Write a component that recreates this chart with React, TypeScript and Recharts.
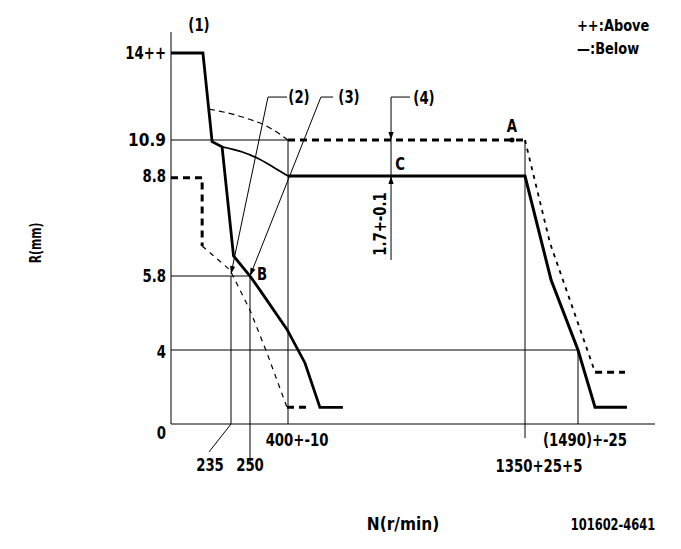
import React from 'react';
import { ComposedChart, Line, XAxis, YAxis, ReferenceLine, ReferenceDot } from 'recharts';

// ---- schematic (non-uniform) axis anchors: value -> offset from origin ----
const N_ANCHORS = [0, 235, 250, 400, 1350, 1490, 1693];
const X_POS = [0, 60, 79, 117, 354, 407, 484];
const R_ANCHORS = [0, 4, 5.8, 8.8, 10.9, 14, 14.75];
const Y_POS = [0, 74, 148, 248, 284, 371, 392];

// ---- tick values / labels ----
const X_TICKS = [235, 250, 400, 1350, 1490];
const X_TICK_LABELS = ['235', '250', '400+-10', '1350+25+5', '(1490)+-25'];
const Y_TICKS = [0, 4, 5.8, 8.8, 10.9, 14];
const Y_TICK_LABELS = ['0', '4', '5.8', '8.8', '10.9', '14++'];

// ---- series (N in r/min, R in mm) ----
const mainN = [0, 125, 161, 200, 237, 250, 290, 396, 468, 528, 620];
const mainR = [14, 14, 10.8, 10.5, 6.4, 5.8, 5.45, 4.5, 3.3, 0.9, 0.9];

const branchN = [200, 244, 278, 341, 400];
const branchR = [10.5, 10.2, 9.85, 9.33, 8.8];

const plateauN = [400, 1350, 1419, 1490, 1535, 1619];
const plateauR = [8.8, 8.8, 5.7, 4.0, 0.9, 0.9];

const aboveCurveN = [149, 244, 329, 400];
const aboveCurveR = [12.0, 11.72, 11.33, 10.9];
const aboveFlatN = [400, 1350];
const aboveFlatR = [10.9, 10.9];
const aboveDropN = [1350, 1416, 1535];
const aboveDropR = [10.9, 6.79, 2.8];
const aboveEndN = [1535, 1614];
const aboveEndR = [2.8, 2.8];

const belowStepN = [0, 122, 122];
const belowStepR = [8.75, 8.75, 6.7];
const belowDropN = [122, 231, 250, 317, 396];
const belowDropR = [6.7, 5.98, 4.97, 3.84, 0.9];
const belowEndN = [396, 480];
const belowEndR = [0.9, 0.9];

// points A, B, C and leader anchors
const POINT_A = { n: 1298, r: 10.9 };
const POINT_B = { n: 250, r: 5.8 };
const LEADER_R = 12.43;
const LEADER2_N = [321, 396];
const LEADER3_N = [532, 581];
const LEADER4_N = [813, 889];
const DIM4_BOTTOM_R = 6.28;

function piecewise(v: number, src: number[], dst: number[]) {
  let i = 0;
  if (v >= src[src.length - 1]) i = src.length - 2;
  else if (v > src[0]) {
    while (v > src[i + 1]) i++;
  }
  const t = (v - src[i]) / (src[i + 1] - src[i]);
  return dst[i] + t * (dst[i + 1] - dst[i]);
}
const sx = (n: number) => piecewise(n, N_ANCHORS, X_POS);
const sy = (r: number) => piecewise(r, R_ANCHORS, Y_POS);
const pts = (ns: number[], rs: number[]) => ns.map((n, i) => ({ x: sx(n), y: sy(rs[i]) }));

const FONT = "'Liberation Sans Narrow','DejaVu Sans Condensed','Arial Narrow',sans-serif";
const X_TICK_OFFSETS = [[-21, 41], [0, 41], [9, 16], [14, 42], [7, 16]];
const Y_TICK_DY = [9, 2, 0, 0, 0, 0];

const T = ({ x, y, size = 18, kx = 0.82, rot = 0, anchor = 'middle', children }: any) => (
  <text x={0} y={0} transform={`translate(${x},${y}) rotate(${rot}) scale(${kx},1)`}
    textAnchor={anchor} dominantBaseline="central" fontFamily={FONT} fontWeight="bold"
    fontSize={size} fill="#000">
    {children}
  </text>
);

const XTick = (props: any) => {
  const { x, payload } = props;
  const v = payload.value;
  let idx = 0;
  let best = Infinity;
  X_TICKS.forEach((t, i) => {
    const d = Math.abs(sx(t) - v);
    if (d < best) { best = d; idx = i; }
  });
  const [dx, dy] = X_TICK_OFFSETS[idx];
  return <T x={x + dx} y={424 + dy}>{X_TICK_LABELS[idx]}</T>;
};

const YTick = (props: any) => {
  const { y, payload } = props;
  const v = payload.value;
  let idx = 0;
  let best = Infinity;
  Y_TICKS.forEach((t, i) => {
    const d = Math.abs(sy(t) - v);
    if (d < best) { best = d; idx = i; }
  });
  return <T x={166} y={y + Y_TICK_DY[idx]} anchor="end" kx={idx === 4 ? 0.95 : 0.82}>{Y_TICK_LABELS[idx]}</T>;
};

const arrow = (dx: number, dy: number) => (props: any) => {
  const { cx, cy } = props;
  const len = Math.hypot(dx, dy);
  const ux = dx / len, uy = dy / len;
  const L = 8, W = 2.6;
  const bx = cx - ux * L, by = cy - uy * L;
  const p = `${cx},${cy} ${bx - uy * W},${by + ux * W} ${bx + uy * W},${by - ux * W}`;
  return <polygon points={p} fill="#000" />;
};

const thin = { stroke: '#000', strokeWidth: 1, ifOverflow: 'visible' as const };

const seg = (n1: number, r1: number, n2: number, r2: number) => [
  { x: sx(n1), y: sy(r1) },
  { x: sx(n2), y: sy(r2) },
];

export default function App() {
  return (
    <div style={{ position: 'absolute', left: 0, top: 0, width: 681, height: 549, background: '#fff' }}>
      <ComposedChart width={681} height={549} margin={{ top: 32, right: 26, bottom: 0, left: 0 }}>
        <XAxis type="number" dataKey="x" domain={[0, 484]} allowDataOverflow
          ticks={X_TICKS.map(sx)} interval={0} tick={<XTick />} tickLine={false}
          tickSize={0} height={125} axisLine={{ stroke: '#000', strokeWidth: 1 }} />
        <YAxis type="number" dataKey="y" domain={[0, 392]} allowDataOverflow
          ticks={Y_TICKS.map(sy)} interval={0} tick={<YTick />} tickLine={false}
          tickSize={0} width={171} axisLine={{ stroke: '#000', strokeWidth: 1 }} />

        {/* thin reference lines */}
        <ReferenceLine segment={seg(0, 10.9, 400, 10.9)} {...thin} />
        <ReferenceLine segment={seg(400, 10.9, 400, 0)} {...thin} />
        <ReferenceLine segment={seg(0, 5.8, 250, 5.8)} {...thin} />
        <ReferenceLine segment={seg(235, 5.8, 235, 0)} {...thin} />
        <ReferenceLine segment={seg(235, 0, 149, -1.51)} {...thin} />
        <ReferenceLine segment={seg(250, 5.8, 250, -2.1)} {...thin} />
        <ReferenceLine segment={seg(0, 4, 1490, 4)} {...thin} />
        <ReferenceLine segment={seg(1490, 4, 1490, 0)} {...thin} />
        <ReferenceLine segment={seg(1350, 10.9, 1350, -0.76)} {...thin} />

        {/* leaders */}
        <ReferenceLine segment={seg(LEADER2_N[0], LEADER_R, LEADER2_N[1], LEADER_R)} {...thin} />
        <ReferenceLine segment={seg(LEADER2_N[0], LEADER_R, 235, 5.86)} {...thin} />
        <ReferenceLine segment={seg(LEADER3_N[0], LEADER_R, LEADER3_N[1], LEADER_R)} {...thin} />
        <ReferenceLine segment={seg(LEADER3_N[0], LEADER_R, POINT_B.n, POINT_B.r)} {...thin} />
        <ReferenceLine segment={seg(LEADER4_N[0], LEADER_R, LEADER4_N[1], LEADER_R)} {...thin} />
        <ReferenceLine segment={seg(LEADER4_N[0], LEADER_R, LEADER4_N[0], DIM4_BOTTOM_R)} {...thin} />

        {/* Above (dashed) */}
        <Line data={pts(aboveCurveN, aboveCurveR)} dataKey="y" type="monotone" stroke="#000"
          strokeWidth={1.2} strokeDasharray="6 4" dot={false} isAnimationActive={false} />
        <Line data={pts(aboveFlatN, aboveFlatR)} dataKey="y" type="linear" stroke="#000"
          strokeWidth={3} strokeDasharray="7 5" dot={false} isAnimationActive={false} />
        <Line data={pts(aboveDropN, aboveDropR)} dataKey="y" type="linear" stroke="#000"
          strokeWidth={1.8} strokeDasharray="4 5" dot={false} isAnimationActive={false} />
        <Line data={pts(aboveEndN, aboveEndR)} dataKey="y" type="linear" stroke="#000"
          strokeWidth={3} strokeDasharray="7 5" dot={false} isAnimationActive={false} />

        {/* Below (dashed) */}
        <Line data={pts(belowStepN, belowStepR)} dataKey="y" type="linear" stroke="#000"
          strokeWidth={3} strokeDasharray="7 5" dot={false} isAnimationActive={false} />
        <Line data={pts(belowDropN, belowDropR)} dataKey="y" type="linear" stroke="#000"
          strokeWidth={1.2} strokeDasharray="5 5" dot={false} isAnimationActive={false} />
        <Line data={pts(belowEndN, belowEndR)} dataKey="y" type="linear" stroke="#000"
          strokeWidth={3} strokeDasharray="7 5" dot={false} isAnimationActive={false} />

        {/* solid characteristic */}
        <Line data={pts(mainN, mainR)} dataKey="y" type="linear" stroke="#000"
          strokeWidth={2.8} dot={false} isAnimationActive={false} />
        <Line data={pts(branchN, branchR)} dataKey="y" type="monotone" stroke="#000"
          strokeWidth={1.8} dot={false} isAnimationActive={false} />
        <Line data={pts(plateauN, plateauR)} dataKey="y" type="linear" stroke="#000"
          strokeWidth={3} dot={false} isAnimationActive={false} />

        {/* arrowheads and points */}
        <ReferenceDot x={sx(235)} y={sy(5.86)} ifOverflow="visible"
          shape={arrow(sx(235) - sx(LEADER2_N[0]), sy(LEADER_R) - sy(5.86))} />
        <ReferenceDot x={sx(POINT_B.n)} y={sy(POINT_B.r)} ifOverflow="visible"
          shape={arrow(sx(POINT_B.n) - sx(LEADER3_N[0]), sy(LEADER_R) - sy(POINT_B.r))} />
        <ReferenceDot x={sx(LEADER4_N[0])} y={sy(10.9)} ifOverflow="visible" shape={arrow(0, 1)} />
        <ReferenceDot x={sx(LEADER4_N[0])} y={sy(8.8)} ifOverflow="visible" shape={arrow(0, -1)} />
        <ReferenceDot x={sx(POINT_A.n)} y={sy(POINT_A.r)} r={2.5} fill="#000" stroke="none" ifOverflow="visible" />
      </ComposedChart>

      <svg width={681} height={549} style={{ position: 'absolute', left: 0, top: 0, pointerEvents: 'none' }}>
        <T x={199} y={25}>(1)</T>
        <T x={299} y={97}>(2)</T>
        <T x={349} y={97}>(3)</T>
        <T x={424} y={98}>(4)</T>
        <T x={512} y={126}>A</T>
        <T x={262} y={274}>B</T>
        <T x={400} y={164}>C</T>
        <T x={380} y={224} rot={-90}>1.7+-0.1</T>
        <T x={403} y={524} kx={0.95}>N(r/min)</T>
        <T x={577} y={26} size={16} kx={0.9} anchor="start">++:Above</T>
        <T x={577} y={49} size={16} kx={0.9} anchor="start">—:Below</T>
        <T x={613} y={525} size={15} kx={0.85}>101602-4641</T>
        <T x={35} y={243} size={15} kx={0.8} rot={-90}>R(mm)</T>
      </svg>
    </div>
  );
}
